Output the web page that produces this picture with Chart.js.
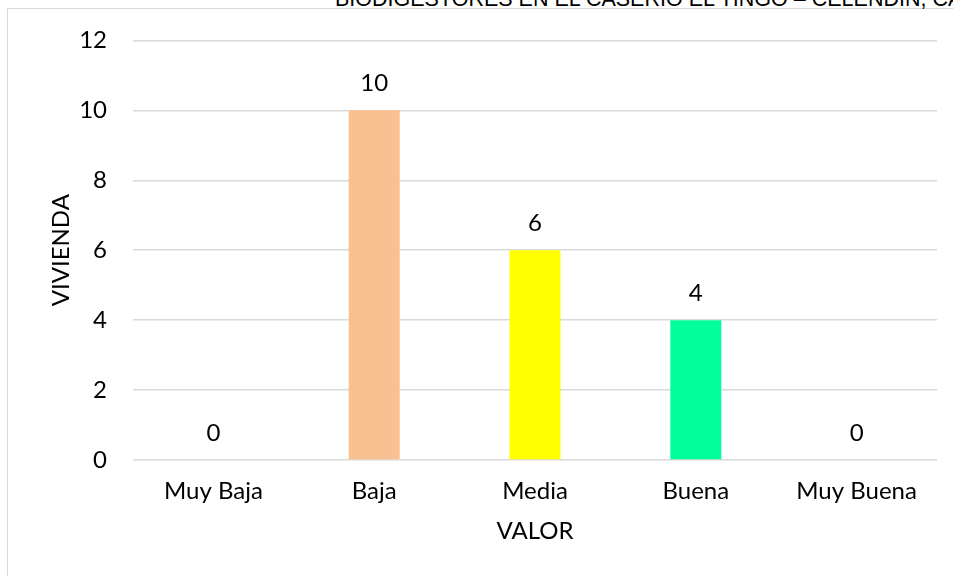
<!DOCTYPE html>
<html>
<head>
<meta charset="utf-8">
<script src="https://cdn.jsdelivr.net/npm/chart.js@4/dist/chart.umd.min.js"></script>
<style>
  html, body { margin: 0; padding: 0; background: #fff; overflow: hidden; }
  #wrap { position: relative; width: 953px; height: 576px; overflow: hidden; }
  #frame { position: absolute; left: 7px; top: 8px; width: 1000px; height: 700px; border: 1px solid #d9d9d9; box-sizing: border-box; }
  #topTitle { position: absolute; left: 335px; top: -11px; line-height: 1; white-space: nowrap; font-family: "Liberation Sans", Arial, sans-serif; font-size: 21.5px; color: #000; }
  canvas { position: absolute; left: 0; top: 0; }
</style>
</head>
<body>
<div id="wrap">
  <div id="frame"></div>
  <div id="topTitle">BIODIGESTORES EN EL CASERIO EL TINGO – CELENDIN, CAJAMARCA</div>
  <canvas id="barChart1" width="953" height="576"></canvas>
</div>
<script>
'use strict';

// data
const categories = ['Muy Baja', 'Baja', 'Media', 'Buena', 'Muy Buena'];
const viviendas = [0, 10, 6, 4, 0];
const barColors = ['#f9c191', '#f9c191', '#ffff00', '#00ff99', '#00ff99'];
const yTicks = [0, 2, 4, 6, 8, 10, 12];

const fontFamily = 'Lato, "Open Sans", sans-serif';
const fontSize = 24;

// value labels above the bars
const valueLabels = {
  id: 'valueLabels',
  afterDatasetsDraw(chart) {
    const ctx = chart.ctx;
    const meta = chart.getDatasetMeta(0);
    ctx.save();
    ctx.font = fontSize + 'px ' + fontFamily;
    ctx.fillStyle = '#000';
    ctx.textAlign = 'center';
    ctx.textBaseline = 'alphabetic';
    meta.data.forEach(function(bar, i) {
      ctx.fillText(String(viviendas[i]), bar.x, bar.y - 19);
    });
    ctx.restore();
  }
};

let newChart = document.getElementById('barChart1').getContext('2d');

new Chart(newChart, {
  type: 'bar',
  data: {
    labels: categories,
    datasets: [{
      label: 'VIVIENDA',
      data: viviendas,
      backgroundColor: barColors,
      borderWidth: 0,
      categoryPercentage: 1,
      barPercentage: 0.317
    }]
  },
  options: {
    responsive: false,
    animation: false,
    layout: { padding: { top: 38, right: 16, bottom: 0, left: 0 } },
    plugins: {
      legend: { display: false },
      tooltip: { enabled: false },
      title: { display: false }
    },
    scales: {
      x: {
        grid: { display: false, drawTicks: false },
        border: { display: false },
        ticks: { color: '#000', padding: 17, font: { family: fontFamily, size: fontSize } },
        title: {
          display: true,
          text: 'VALOR',
          color: '#000',
          font: { family: fontFamily, size: fontSize },
          padding: { top: 0, bottom: 30 }
        },
        afterFit(scale) { scale.height = 116; }
      },
      y: {
        min: 0,
        max: 12,
        afterBuildTicks(scale) { scale.ticks = yTicks.map(v => ({ value: v })); },
        grid: { color: '#d9d9d9', lineWidth: 1.5, drawTicks: false },
        border: { display: false },
        ticks: { color: '#000', padding: 26, font: { family: fontFamily, size: fontSize } },
        title: {
          display: true,
          text: 'VIVIENDA',
          color: '#000',
          font: { family: fontFamily, size: fontSize },
          padding: { top: 47, bottom: 0 }
        },
        afterFit(scale) { scale.width = 133; }
      }
    }
  },
  plugins: [valueLabels]
});
</script>
</body>
</html>
